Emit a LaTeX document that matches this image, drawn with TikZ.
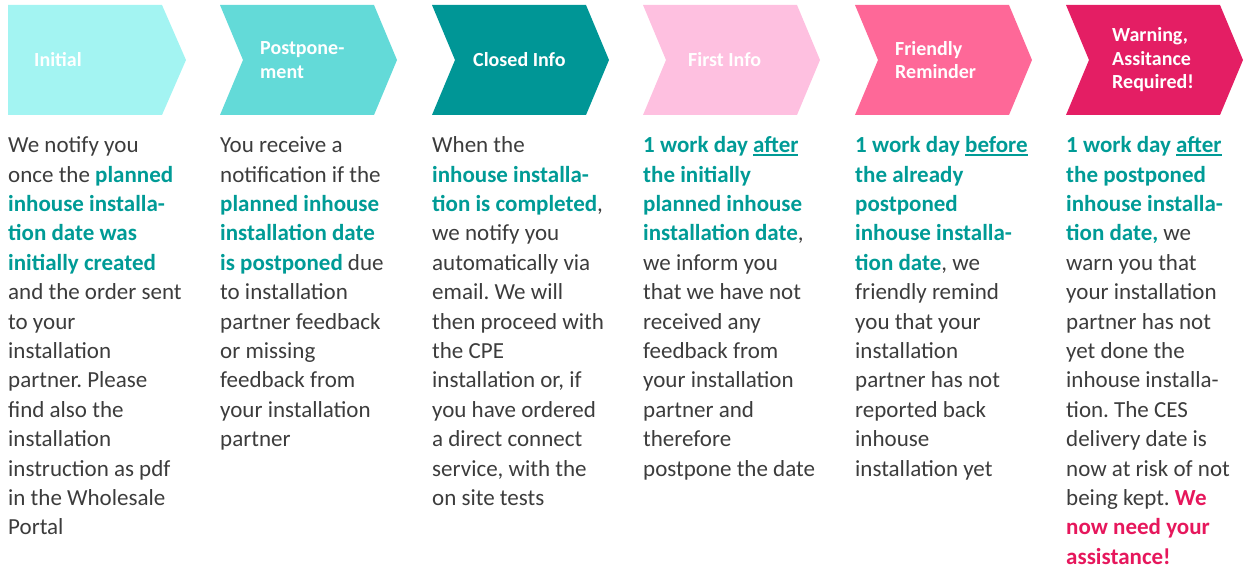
\documentclass[tikz,border=0pt]{standalone}
\usepackage{fontspec}
\setmainfont{Carlito}
\frenchspacing
\definecolor{cA}{HTML}{A3F4F2}
\definecolor{cB}{HTML}{63DAD8}
\definecolor{cC}{HTML}{009696}
\definecolor{cD}{HTML}{FEC0E0}
\definecolor{cE}{HTML}{FE6898}
\definecolor{cF}{HTML}{E41E64}
\definecolor{tealtxt}{HTML}{009B96}
\definecolor{pinktxt}{HTML}{E6175C}
\definecolor{bodytxt}{HTML}{3C3C3C}
\newcommand\hl[1]{{\bfseries\color{tealtxt}#1}}
\newcommand\hp[1]{{\bfseries\color{pinktxt}#1}}
\newcommand\ulx[1]{\setbox0\hbox{#1}\rlap{\color{tealtxt}\rule[-3.5pt]{\wd0}{1.8pt}}\box0}
\tikzset{
  title/.style={anchor=west, align=left, text=white, inner sep=0pt,
    font=\fontsize{20}{23.5}\selectfont\bfseries},
  body/.style={anchor=north west, align=left, text=bodytxt, inner sep=0pt,
    font=\fontsize{23}{29.4}\selectfont\frenchspacing},
}
\begin{document}
\begin{tikzpicture}[x=1pt,y=-1pt]
\useasboundingbox (0,0) rectangle (1249,569);
% chevrons
\fill[cA] (8,5) -- (162,5) -- (186,60) -- (162,115) -- (8,115) -- cycle;
\foreach \L/\c in {220/cB,432/cC,643/cD,855/cE,1066/cF}{
  \fill[\c] (\L,5) -- (\L+154,5) -- (\L+177,60) -- (\L+154,115) -- (\L,115) -- (\L+23,60) -- cycle;
}
% titles
\node[title] (t1) at (34,60) {Initial};
\node[title] (t2) at (260,60) {Postpone-\\ment};
\node[title] (t3) at (473,60) {Closed Info};
\node[title] (t4) at (688,60) {First Info};
\node[title] (t5) at (895,60) {Friendly\\Reminder};
\node[title] (t6) at (1112,60) {Warning,\\Assitance\\Required!};
% bodies
\node[body] (b1) at (8,132) {\strut We notify you\\
once the \hl{planned}\\
\hl{inhouse installa-}\\
\hl{tion date was}\\
\hl{initially created}\\
and the order sent\\
to your\\
installation\\
partner. Please\\
find also the\\
installation\\
instruction as pdf\\
in the Wholesale\\
Portal};
\node[body] (b2) at (220,132) {\strut You receive a\\
notification if the\\
\hl{planned inhouse}\\
\hl{installation date}\\
\hl{is postponed} due\\
to installation\\
partner feedback\\
or missing\\
feedback from\\
your installation\\
partner};
\node[body] (b3) at (432,132) {\strut When the\\
\hl{inhouse installa-}\\
\hl{tion is completed},\\
we notify you\\
automatically via\\
email. We will\\
then proceed with\\
the CPE\\
installation or, if\\
you have ordered\\
a direct connect\\
service, with the\\
on site tests};
\node[body] (b4) at (643,132) {\strut\hl{1 work day \ulx{after}}\\
\hl{the initially}\\
\hl{planned inhouse}\\
\hl{installation date},\\
we inform you\\
that we have not\\
received any\\
feedback from\\
your installation\\
partner and\\
therefore\\
postpone the date};
\node[body] (b5) at (855,132) {\strut\hl{1 work day \ulx{before}}\\
\hl{the already}\\
\hl{postponed}\\
\hl{inhouse installa-}\\
\hl{tion date}, we\\
friendly remind\\
you that your\\
installation\\
partner has not\\
reported back\\
inhouse\\
installation yet};
\node[body] (b6) at (1066,132) {\strut\hl{1 work day \ulx{after}}\\
\hl{the postponed}\\
\hl{inhouse installa-}\\
\hl{tion date,} we\\
warn you that\\
your installation\\
partner has not\\
yet done the\\
inhouse installa-\\
tion. The CES\\
delivery date is\\
now at risk of not\\
being kept. \hp{We}\\
\hp{now need your}\\
\hp{assistance!}};
\end{tikzpicture}
\end{document}
